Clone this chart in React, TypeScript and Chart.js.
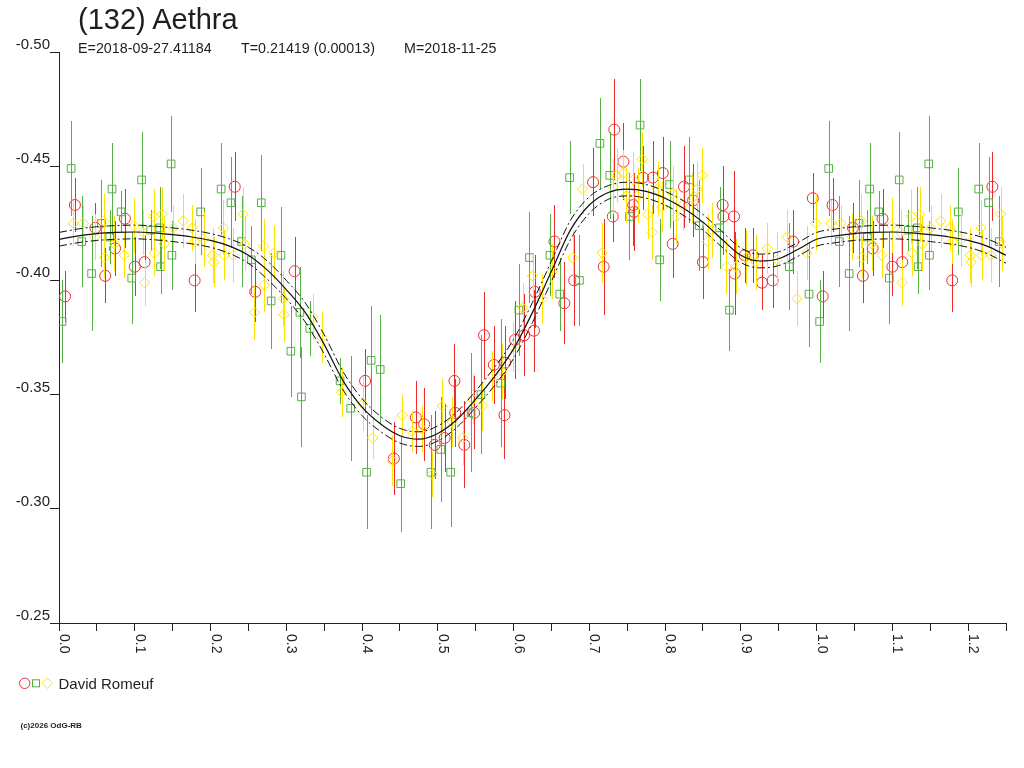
import { useEffect, useRef } from 'react';
import { Chart, registerables } from 'chart.js';

Chart.register(...registerables);

// ---------- axes ----------
const X_MIN = 0;
const X_MAX = 1.25;
const Y_MIN = -0.5;
const Y_MAX = -0.25;
const X_TICKS = [0, 0.05, 0.1, 0.15, 0.2, 0.25, 0.3, 0.35, 0.4, 0.45, 0.5, 0.55, 0.6, 0.65, 0.7, 0.75, 0.8, 0.85, 0.9, 0.95, 1.0, 1.05, 1.1, 1.15, 1.2, 1.25];
const X_LABEL_VALUES = [0, 0.1, 0.2, 0.3, 0.4, 0.5, 0.6, 0.7, 0.8, 0.9, 1.0, 1.1, 1.2];
const X_LABELS = ['0.0', '0.1', '0.2', '0.3', '0.4', '0.5', '0.6', '0.7', '0.8', '0.9', '1.0', '1.1', '1.2'];
const Y_TICKS = [-0.5, -0.45, -0.4, -0.35, -0.3, -0.25];
const Y_LABELS = ['-0.50', '-0.45', '-0.40', '-0.35', '-0.30', '-0.25'];

// ---------- observations (phase 0..1) ----------
const RED_PHASE = [0.008, 0.021, 0.048, 0.061, 0.074, 0.087, 0.100, 0.113, 0.179, 0.232, 0.259, 0.311, 0.404, 0.442, 0.471, 0.482, 0.496, 0.509, 0.522, 0.523, 0.535, 0.548, 0.561, 0.574, 0.588, 0.589, 0.602, 0.614, 0.627, 0.628, 0.654, 0.667, 0.680, 0.705, 0.719, 0.731, 0.733, 0.745, 0.758, 0.759, 0.771, 0.784, 0.797, 0.810, 0.825, 0.837, 0.850, 0.876, 0.877, 0.891, 0.892, 0.905, 0.916, 0.928, 0.942, 0.969, 0.995];
const RED_MAG = [-0.393, -0.433, -0.423, -0.402, -0.414, -0.427, -0.406, -0.408, -0.400, -0.441, -0.395, -0.404, -0.356, -0.322, -0.340, -0.337, -0.328, -0.331, -0.356, -0.342, -0.328, -0.342, -0.376, -0.363, -0.341, -0.364, -0.374, -0.376, -0.378, -0.395, -0.417, -0.390, -0.400, -0.443, -0.406, -0.428, -0.466, -0.452, -0.433, -0.430, -0.445, -0.445, -0.447, -0.416, -0.441, -0.435, -0.408, -0.433, -0.428, -0.428, -0.403, -0.411, -0.411, -0.399, -0.400, -0.417, -0.436];
const RED_ERR = [0.011, 0.012, 0.011, 0.012, 0.012, 0.013, 0.013, 0.012, 0.014, 0.015, 0.013, 0.015, 0.014, 0.016, 0.016, 0.016, 0.015, 0.015, 0.016, 0.015, 0.019, 0.016, 0.019, 0.017, 0.019, 0.016, 0.017, 0.018, 0.018, 0.016, 0.016, 0.018, 0.020, 0.015, 0.021, 0.011, 0.022, 0.017, 0.018, 0.017, 0.014, 0.016, 0.016, 0.015, 0.018, 0.016, 0.016, 0.017, 0.017, 0.020, 0.018, 0.012, 0.012, 0.012, 0.012, 0.014, 0.011];

const GREEN_PHASE = [0.004, 0.016, 0.030, 0.043, 0.056, 0.067, 0.070, 0.082, 0.096, 0.109, 0.121, 0.133, 0.134, 0.148, 0.149, 0.187, 0.214, 0.227, 0.241, 0.254, 0.267, 0.280, 0.293, 0.306, 0.318, 0.320, 0.331, 0.371, 0.385, 0.406, 0.412, 0.424, 0.451, 0.491, 0.504, 0.517, 0.544, 0.557, 0.583, 0.607, 0.621, 0.648, 0.661, 0.674, 0.687, 0.714, 0.727, 0.753, 0.767, 0.793, 0.806, 0.832, 0.845, 0.872, 0.885, 0.964, 0.990];
const GREEN_MAG = [-0.382, -0.449, -0.417, -0.403, -0.425, -0.419, -0.440, -0.430, -0.401, -0.444, -0.422, -0.423, -0.406, -0.451, -0.411, -0.430, -0.440, -0.434, -0.417, -0.409, -0.434, -0.391, -0.411, -0.369, -0.386, -0.349, -0.379, -0.356, -0.344, -0.316, -0.365, -0.361, -0.311, -0.316, -0.326, -0.316, -0.342, -0.350, -0.355, -0.387, -0.410, -0.411, -0.394, -0.445, -0.400, -0.460, -0.446, -0.428, -0.468, -0.409, -0.442, -0.444, -0.424, -0.423, -0.387, -0.406, -0.394];
const GREEN_ERR = [0.018, 0.021, 0.020, 0.025, 0.019, 0.012, 0.020, 0.009, 0.020, 0.021, 0.009, 0.018, 0.012, 0.021, 0.015, 0.019, 0.020, 0.020, 0.020, 0.015, 0.021, 0.021, 0.021, 0.020, 0.020, 0.022, 0.012, 0.010, 0.023, 0.025, 0.024, 0.024, 0.021, 0.025, 0.023, 0.024, 0.026, 0.026, 0.028, 0.020, 0.020, 0.018, 0.016, 0.016, 0.020, 0.020, 0.019, 0.019, 0.020, 0.018, 0.019, 0.019, 0.020, 0.018, 0.018, 0.019, 0.023];

const YELLOW_PHASE = [0.019, 0.032, 0.047, 0.059, 0.060, 0.073, 0.086, 0.099, 0.111, 0.113, 0.125, 0.126, 0.136, 0.139, 0.151, 0.164, 0.176, 0.179, 0.191, 0.203, 0.204, 0.217, 0.218, 0.230, 0.243, 0.245, 0.258, 0.270, 0.271, 0.284, 0.296, 0.297, 0.335, 0.347, 0.373, 0.401, 0.414, 0.440, 0.453, 0.466, 0.479, 0.493, 0.506, 0.519, 0.533, 0.546, 0.559, 0.572, 0.585, 0.599, 0.612, 0.625, 0.638, 0.651, 0.678, 0.691, 0.717, 0.731, 0.736, 0.745, 0.749, 0.758, 0.764, 0.770, 0.777, 0.783, 0.790, 0.796, 0.810, 0.815, 0.823, 0.836, 0.842, 0.849, 0.856, 0.862, 0.881, 0.894, 0.907, 0.920, 0.935, 0.948, 0.961, 0.974, 0.987, 0.999];
const YELLOW_MAG = [-0.425, -0.425, -0.419, -0.426, -0.410, -0.416, -0.411, -0.424, -0.421, -0.399, -0.428, -0.412, -0.429, -0.416, -0.423, -0.426, -0.423, -0.417, -0.418, -0.411, -0.408, -0.423, -0.411, -0.411, -0.429, -0.416, -0.386, -0.415, -0.398, -0.412, -0.392, -0.385, -0.384, -0.375, -0.351, -0.346, -0.331, -0.321, -0.341, -0.334, -0.335, -0.315, -0.345, -0.338, -0.331, -0.348, -0.345, -0.358, -0.360, -0.371, -0.388, -0.402, -0.392, -0.404, -0.410, -0.440, -0.412, -0.441, -0.446, -0.447, -0.437, -0.444, -0.437, -0.453, -0.429, -0.421, -0.440, -0.432, -0.438, -0.428, -0.433, -0.436, -0.440, -0.446, -0.417, -0.422, -0.406, -0.406, -0.410, -0.408, -0.414, -0.409, -0.419, -0.392, -0.412, -0.425];
const YELLOW_ERR = [0.010, 0.008, 0.010, 0.012, 0.009, 0.012, 0.010, 0.012, 0.010, 0.010, 0.012, 0.010, 0.012, 0.012, 0.010, 0.012, 0.010, 0.010, 0.012, 0.012, 0.011, 0.012, 0.011, 0.012, 0.012, 0.012, 0.012, 0.012, 0.012, 0.012, 0.012, 0.012, 0.010, 0.011, 0.011, 0.012, 0.009, 0.011, 0.009, 0.009, 0.010, 0.010, 0.012, 0.011, 0.012, 0.011, 0.011, 0.011, 0.012, 0.011, 0.011, 0.010, 0.011, 0.012, 0.012, 0.011, 0.013, 0.012, 0.012, 0.010, 0.012, 0.012, 0.012, 0.012, 0.011, 0.012, 0.012, 0.011, 0.012, 0.012, 0.011, 0.011, 0.012, 0.012, 0.012, 0.012, 0.012, 0.012, 0.012, 0.012, 0.011, 0.012, 0.012, 0.012, 0.012, 0.012];

// ---------- fitted Fourier curve (phase 0..1) ----------
const FIT_PHASE = [0, 0.025, 0.05, 0.075, 0.1, 0.125, 0.15, 0.175, 0.2, 0.225, 0.25, 0.275, 0.3, 0.325, 0.35, 0.375, 0.4, 0.425, 0.45, 0.475, 0.5, 0.525, 0.55, 0.575, 0.6, 0.625, 0.65, 0.675, 0.7, 0.725, 0.75, 0.775, 0.8, 0.825, 0.85, 0.875, 0.9, 0.925, 0.95, 0.975, 1.0];
const FIT_MAG = [-0.4180, -0.4195, -0.4205, -0.4210, -0.4212, -0.4208, -0.4200, -0.4190, -0.4175, -0.4150, -0.4110, -0.4045, -0.3960, -0.3860, -0.3720, -0.3560, -0.3445, -0.3370, -0.3320, -0.3305, -0.3330, -0.3390, -0.3480, -0.3580, -0.3700, -0.3860, -0.4040, -0.4220, -0.4330, -0.4385, -0.4400, -0.4390, -0.4360, -0.4315, -0.4255, -0.4180, -0.4110, -0.4085, -0.4095, -0.4135, -0.4180];
const FIT_SIGMA = [0.003, 0.003, 0.003, 0.003, 0.003, 0.003, 0.003, 0.003, 0.003, 0.0032, 0.0035, 0.004, 0.004, 0.0042, 0.0042, 0.004, 0.0037, 0.0033, 0.0032, 0.0032, 0.0033, 0.0034, 0.0036, 0.004, 0.0042, 0.0044, 0.0044, 0.0042, 0.0036, 0.003, 0.003, 0.003, 0.003, 0.0032, 0.0034, 0.0034, 0.0032, 0.003, 0.003, 0.003, 0.003];

const RED = '#ee2b2b';
const GREEN = '#55b043';
const YELLOW = '#ffe400';
const FONT = '"Liberation Sans", Arial, Helvetica, sans-serif';

type Pt = { x: number; y: number };

// phase-folded display: observations with phase <= 0.25 are shown again one cycle later
function foldObs(ph: number[], mag: number[], err: number[]) {
  const pts: Pt[] = [];
  const errs: number[] = [];
  ph.forEach((p, i) => {
    pts.push({ x: p, y: mag[i] });
    errs.push(err[i]);
  });
  ph.forEach((p, i) => {
    if (p + 1 <= X_MAX) {
      pts.push({ x: p + 1, y: mag[i] });
      errs.push(err[i]);
    }
  });
  return { pts, errs };
}

function foldFit(sign: number) {
  const pts: Pt[] = FIT_PHASE.map((p, i) => ({ x: p, y: FIT_MAG[i] + sign * FIT_SIGMA[i] }));
  FIT_PHASE.forEach((p, i) => {
    if (p > 0 && p + 1 <= X_MAX + 1e-9) pts.push({ x: p + 1, y: FIT_MAG[i] + sign * FIT_SIGMA[i] });
  });
  return pts;
}

const errorBars = {
  id: 'errorBars',
  beforeDatasetDraw(chart: any, args: any) {
    const ds = chart.data.datasets[args.index];
    if (!ds.errors) return;
    const { ctx, chartArea } = chart;
    const xs = chart.scales.x;
    const ys = chart.scales.y;
    ctx.save();
    ctx.beginPath();
    ctx.rect(chartArea.left, chartArea.top - 2, chartArea.right - chartArea.left, chartArea.bottom - chartArea.top + 2);
    ctx.clip();
    ctx.strokeStyle = ds.borderColor;
    ctx.lineWidth = 1;
    ds.data.forEach((p: Pt, i: number) => {
      const px = Math.round(xs.getPixelForValue(p.x)) + 0.5;
      const y1 = Math.round(ys.getPixelForValue(p.y - ds.errors[i]));
      const y2 = Math.round(ys.getPixelForValue(p.y + ds.errors[i]));
      ctx.beginPath();
      ctx.moveTo(px, y1);
      ctx.lineTo(px, y2);
      ctx.stroke();
    });
    ctx.restore();
  },
};

const axisLabels = {
  id: 'axisLabels',
  afterDraw(chart: any) {
    const { ctx } = chart;
    const xs = chart.scales.x;
    const ys = chart.scales.y;
    ctx.save();
    ctx.fillStyle = '#222';
    ctx.font = `15px ${FONT}`;
    ctx.textAlign = 'right';
    ctx.textBaseline = 'alphabetic';
    Y_TICKS.forEach((v, i) => {
      const py = ys.getPixelForValue(v);
      ctx.fillText(Y_LABELS[i], xs.left - 9, py - 3);
    });
    ctx.font = `14px ${FONT}`;
    ctx.textAlign = 'left';
    X_LABEL_VALUES.forEach((v, i) => {
      const px = xs.getPixelForValue(v);
      ctx.save();
      ctx.translate(px + 1, ys.bottom + 11);
      ctx.rotate(Math.PI / 2);
      ctx.fillText(X_LABELS[i], 0, 0);
      ctx.restore();
    });
    ctx.restore();
  },
};

export default function App() {
  const ref = useRef<HTMLCanvasElement>(null);

  useEffect(() => {
    const canvas = ref.current;
    if (!canvas) return;
    const red = foldObs(RED_PHASE, RED_MAG, RED_ERR);
    const green = foldObs(GREEN_PHASE, GREEN_MAG, GREEN_ERR);
    const yellow = foldObs(YELLOW_PHASE, YELLOW_MAG, YELLOW_ERR);

    const lineCommon = {
      showLine: true,
      pointRadius: 0,
      pointHoverRadius: 0,
      borderColor: '#111',
      cubicInterpolationMode: 'monotone' as const,
      fill: false,
    };

    const chart = new Chart(canvas, {
      type: 'scatter',
      data: {
        datasets: [
          { ...lineCommon, label: 'fit', data: foldFit(0), borderWidth: 1.2 } as any,
          { ...lineCommon, label: 'fit+', data: foldFit(-1), borderWidth: 1, borderDash: [8, 3, 2, 3] } as any,
          { ...lineCommon, label: 'fit-', data: foldFit(1), borderWidth: 1, borderDash: [8, 3, 2, 3] } as any,
          {
            label: 'yellow',
            data: yellow.pts,
            errors: yellow.errs,
            pointStyle: 'rectRot',
            pointRadius: 5.2,
            borderColor: YELLOW,
            backgroundColor: 'rgba(0,0,0,0)',
            borderWidth: 1,
            pointHoverRadius: 5.2,
          } as any,
          {
            label: 'green',
            data: green.pts,
            errors: green.errs,
            pointStyle: 'rect',
            pointRadius: 5.4,
            borderColor: GREEN,
            backgroundColor: 'rgba(0,0,0,0)',
            borderWidth: 1,
            pointHoverRadius: 5.4,
          } as any,
          {
            label: 'red',
            data: red.pts,
            errors: red.errs,
            pointStyle: 'circle',
            pointRadius: 5.5,
            borderColor: RED,
            backgroundColor: 'rgba(0,0,0,0)',
            borderWidth: 1,
            pointHoverRadius: 5.5,
          } as any,
        ],
      },
      options: {
        responsive: false,
        animation: false,
        events: [],
        layout: { autoPadding: false, padding: { left: 50, top: 52, right: 18, bottom: 137 } },
        plugins: { legend: { display: false }, tooltip: { enabled: false }, title: { display: false } },
        scales: {
          x: {
            type: 'linear',
            min: X_MIN,
            max: X_MAX,
            afterBuildTicks: (scale: any) => {
              scale.ticks = X_TICKS.map((v) => ({ value: v }));
            },
            ticks: { display: false },
            grid: { display: true, drawOnChartArea: false, drawTicks: true, tickLength: 8, color: '#222', lineWidth: 1 },
            border: { display: true, color: '#222', width: 1 },
          },
          y: {
            type: 'linear',
            min: Y_MIN,
            max: Y_MAX,
            reverse: true,
            afterBuildTicks: (scale: any) => {
              scale.ticks = Y_TICKS.map((v) => ({ value: v }));
            },
            ticks: { display: false },
            grid: { display: true, drawOnChartArea: false, drawTicks: true, tickLength: 9, color: '#222', lineWidth: 1 },
            border: { display: true, color: '#222', width: 1 },
          },
        },
      } as any,
      plugins: [errorBars, axisLabels],
    });
    return () => chart.destroy();
  }, []);

  return (
    <div
      style={{
        position: 'fixed',
        left: 0,
        top: 0,
        width: 1024,
        height: 768,
        background: '#fff',
        overflow: 'hidden',
        fontFamily: FONT,
        color: '#1e1e1e',
      }}
    >
      <canvas ref={ref} width={1024} height={768} style={{ position: 'absolute', left: 0, top: 0, width: 1024, height: 768 }} />
      <div style={{ position: 'absolute', left: 78, top: 5, fontSize: 29, lineHeight: '29px', whiteSpace: 'nowrap' }}>(132) Aethra</div>
      <div style={{ position: 'absolute', left: 78, top: 41, fontSize: 14.3, lineHeight: '14.3px', whiteSpace: 'nowrap' }}>E=2018-09-27.41184</div>
      <div style={{ position: 'absolute', left: 241, top: 41, fontSize: 14.3, lineHeight: '14.3px', whiteSpace: 'nowrap' }}>T=0.21419 (0.00013)</div>
      <div style={{ position: 'absolute', left: 404, top: 41, fontSize: 14.3, lineHeight: '14.3px', whiteSpace: 'nowrap' }}>M=2018-11-25</div>
      <svg width={60} height={26} style={{ position: 'absolute', left: 0, top: 670 }}>
        <circle cx={24.7} cy={13.3} r={5.2} fill="none" stroke={RED} strokeWidth={1} />
        <rect x={32.5} y={9.8} width={7} height={7} fill="none" stroke={GREEN} strokeWidth={1} />
        <polygon points="47.2,8.1 52.4,13.3 47.2,18.5 42,13.3" fill="none" stroke={YELLOW} strokeWidth={1} />
      </svg>
      <div style={{ position: 'absolute', left: 58.5, top: 676, fontSize: 15, lineHeight: '15px', whiteSpace: 'nowrap' }}>David Romeuf</div>
      <div style={{ position: 'absolute', left: 20.5, top: 721.5, fontSize: 8, lineHeight: '8px', fontWeight: 'bold', whiteSpace: 'nowrap' }}>(c)2026 OdG-RB</div>
    </div>
  );
}
